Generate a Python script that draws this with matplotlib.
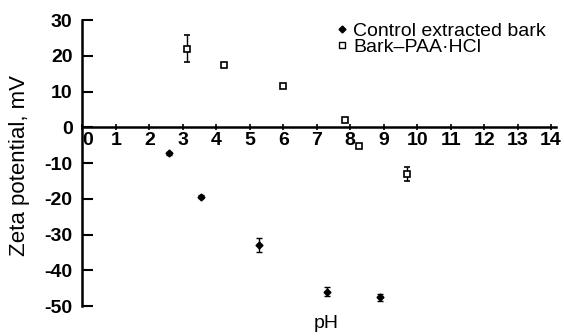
import matplotlib
matplotlib.use("Agg")
import matplotlib.pyplot as plt
import matplotlib.transforms as mtransforms
from matplotlib.lines import Line2D

plt.rcParams['font.family'] = ['Liberation Sans', 'DejaVu Sans']

# Data
ctrl_ph = [2.6, 3.55, 5.27, 7.3, 8.9]
ctrl_zeta = [-7.3, -19.4, -33.0, -46.0, -47.5]
ctrl_err = [0.4, 0.4, 2.0, 1.3, 1.0]

paa_ph = [3.12, 4.23, 5.98, 7.85, 8.27, 9.7]
paa_zeta = [22.0, 17.5, 11.5, 2.0, -5.3, -13.0]
paa_err = [3.8, 0.6, 0.6, 0.5, 0.4, 2.0]

x_ticks = list(range(0, 15))
y_ticks = [-50, -40, -30, -20, -10, 0, 10, 20, 30]

fig = plt.figure(figsize=(5.64, 3.36), dpi=100)
ax = fig.add_axes([0.146, 0.089, 0.840, 0.851])

ax.errorbar(ctrl_ph, ctrl_zeta, yerr=ctrl_err, fmt='D', ms=3.5, color='black',
            mfc='black', mec='black', ecolor='black', elinewidth=1, capsize=2, capthick=1)
ax.errorbar(paa_ph, paa_zeta, yerr=paa_err, fmt='s', ms=5, color='black',
            mfc='white', mec='black', mew=1.2, ecolor='black', elinewidth=1, capsize=2, capthick=1)

ax.set_xlim(0, 14.15)
ax.set_ylim(-50, 30)
ax.spines['top'].set_visible(False)
ax.spines['right'].set_visible(False)
ax.spines['bottom'].set_position(('data', 0))
ax.spines['left'].set_linewidth(1.8)
ax.spines['bottom'].set_linewidth(1.8)
ax.spines['left'].set_bounds(-50, 30)

ax.set_xticks(x_ticks)
ax.set_xticklabels([str(t) for t in x_ticks])
ax.set_yticks(y_ticks)
ax.set_yticklabels([str(t) for t in y_ticks])
ax.tick_params(axis='y', direction='in', length=8, width=1.5, labelsize=14, pad=7)
ax.tick_params(axis='x', direction='inout', length=4, width=1.2, labelsize=14, pad=1.5)
for lab in ax.get_xticklabels() + ax.get_yticklabels():
    lab.set_fontweight('bold')
xl0 = ax.get_xticklabels()[0]
xl0.set_transform(xl0.get_transform() + mtransforms.ScaledTranslation(5/100, 0, fig.dpi_scale_trans))

ax.set_ylabel('Zeta potential, mV', fontsize=16)
ax.yaxis.set_label_coords(-0.11, 0.49)
ax.set_xlabel('pH', fontsize=14)
ax.xaxis.set_label_coords(0.514, -0.03)

handles = [
    Line2D([], [], marker='D', ls='none', ms=3.5, color='black'),
    Line2D([], [], marker='s', ls='none', ms=5, mfc='white', mec='black', mew=1),
]
fig.legend(handles, ['Control extracted bark', 'Bark\u2013PAA\u00b7HCl'], loc='upper left',
           bbox_to_anchor=(332/564, 1 - 22/336), frameon=False, fontsize=14, handletextpad=0.1,
           labelspacing=-0.05, handlelength=1.0, borderaxespad=0, borderpad=0)

fig.savefig('out.png', dpi=100)
